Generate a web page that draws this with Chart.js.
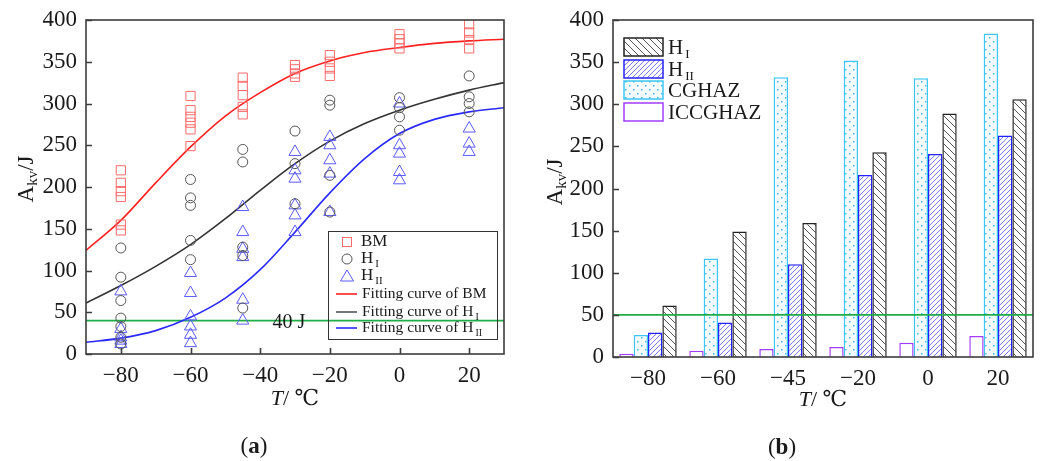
<!DOCTYPE html>
<html>
<head>
<meta charset="utf-8">
<script src="https://cdn.jsdelivr.net/npm/chart.js@4.4.1/dist/chart.umd.min.js"></script>
<style>
  html, body { margin: 0; padding: 0; background: #fff; }
  #wrap { position: relative; width: 1040px; height: 461px; overflow: hidden; }
  .box { position: absolute; top: 0; width: 520px; height: 461px; }
</style>
</head>
<body>
<div id="wrap">
  <div class="box" style="left:0"><canvas id="chart-a" width="520" height="461"></canvas></div>
  <div class="box" style="left:520px"><canvas id="chart-b" width="520" height="461"></canvas></div>
</div>
<script>
// ---- panel (a): impact energy vs temperature ----
const tempsA = [-80, -60, -45, -30, -20, 0, 20];
const bmValues = [
    [220, 205, 195, 188, 155, 148],
    [309, 292, 284, 277, 269, 249],
    [331, 321, 310, 296, 287],
    [346, 341, 336, 332],
    [358, 350, 342, 333],
    [383, 377, 372, 366],
    [395, 385, 376, 366]
];
const h1Values = [
    [127, 92, 64, 43, 33, 20, 12],
    [209, 187, 178, 136, 113],
    [245, 230, 128, 118, 55],
    [267, 228, 180],
    [304, 298, 214, 170],
    [307, 295, 284, 268],
    [333, 308, 300, 290]
];
const h2Values = [
    [75, 30, 20, 16, 12],
    [97, 73, 45, 33, 23, 13],
    [176, 146, 126, 116, 65, 40],
    [242, 220, 210, 178, 166, 146],
    [260, 250, 232, 216, 170],
    [300, 250, 240, 218, 208],
    [270, 252, 242]
];
// fitting curves, every 10 °C
const fitT  = [-90, -80, -70, -60, -50, -40, -30, -20, -10, 0, 10, 20, 30];
const fitBM = [124, 160, 205, 248, 285, 313, 336, 351, 361, 367, 372, 375, 377];
const fitH1 = [61, 82, 105, 131, 162, 196, 228, 255, 276, 292, 305, 316, 325];
const fitH2 = [14, 19, 28, 44, 67, 101, 146, 193, 234, 264, 281, 290, 295];
const limitA = 40;
const xTicksA = [-80, -60, -40, -20, 0, 20];
const yTicks = [0, 50, 100, 150, 200, 250, 300, 350, 400];

// ---- panel (b): bars per zone ----
const tempsB = ['\u221280', '\u221260', '\u221245', '\u221220', '0', '20'];
const iccghazBars = [4, 7.5, 9.5, 12, 17, 25];
const cghazBars = [26, 117, 332, 352, 331, 384];
const h2Bars = [29, 41, 110, 216, 241, 263];
const h1Bars = [61, 149, 159, 243, 289, 306];
const limitB = 50;

const SERIF = "'Liberation Serif', 'DejaVu Serif', serif";
const TXT = '#1a1a1a';
const GREEN = '#1fae45';

// patterns for the bars
function hatch(color, slope, size, width) {
    const c = document.createElement('canvas');
    c.width = size; c.height = size;
    const g = c.getContext('2d');
    g.fillStyle = '#fff';
    g.fillRect(0, 0, size, size);
    g.strokeStyle = color;
    g.lineWidth = width;
    g.beginPath();
    if (slope === '/') {
        g.moveTo(-1, size + 1); g.lineTo(size + 1, -1);
        g.moveTo(-1, 1); g.lineTo(1, -1);
        g.moveTo(size - 1, size + 1); g.lineTo(size + 1, size - 1);
    } else {
        g.moveTo(-1, -1); g.lineTo(size + 1, size + 1);
        g.moveTo(size - 1, -1); g.lineTo(size + 1, 1);
        g.moveTo(-1, size - 1); g.lineTo(1, size + 1);
    }
    g.stroke();
    return g.createPattern(c, 'repeat');
}
function dots(color) {
    const c = document.createElement('canvas');
    c.width = 8; c.height = 8;
    const g = c.getContext('2d');
    g.fillStyle = '#f5fcff';
    g.fillRect(0, 0, 8, 8);
    g.fillStyle = color;
    g.fillRect(1, 1, 1.5, 1.5);
    g.fillRect(5, 5, 1.5, 1.5);
    return g.createPattern(c, 'repeat');
}
const patH1 = hatch('#555', '\\', 7, 1);
const patH2 = hatch('#7a7aff', '/', 5, 1);
const patCG = dots('#3cbbee');

// text helpers
function subText(ctx, x, y, main, sub, size) {
    ctx.textAlign = 'left';
    ctx.font = size + 'px ' + SERIF;
    const w1 = ctx.measureText(main).width;
    ctx.fillText(main, x, y);
    ctx.font = Math.round(size * 0.62) + 'px ' + SERIF;
    ctx.fillText(sub, x + w1 + 2, y + size * 0.32);
}
function yTitle(ctx, cx, cy) {
    ctx.save();
    ctx.translate(cx, cy);
    ctx.rotate(-Math.PI / 2);
    ctx.fillStyle = TXT;
    ctx.textBaseline = 'middle';
    ctx.textAlign = 'left';
    ctx.font = '23px ' + SERIF;
    const wa = ctx.measureText('A').width;
    const wj = ctx.measureText('/J').width;
    ctx.font = '15px ' + SERIF;
    const wk = ctx.measureText('kv').width;
    const x = -(wa + wk + wj) / 2;
    ctx.font = '23px ' + SERIF;
    ctx.fillText('A', x, 0);
    ctx.font = '15px ' + SERIF;
    ctx.fillText('kv', x + wa, 6);
    ctx.font = '23px ' + SERIF;
    ctx.fillText('/J', x + wa + wk, 0);
    ctx.restore();
}
function xTitle(ctx, cx, cy) {
    ctx.save();
    ctx.fillStyle = TXT;
    ctx.textBaseline = 'middle';
    ctx.textAlign = 'left';
    ctx.font = 'italic 22px ' + SERIF;
    const wt = ctx.measureText('T').width;
    ctx.font = '22px ' + SERIF;
    const wr = ctx.measureText('/ \u2103').width;
    const x = cx - (wt + wr) / 2;
    ctx.font = 'italic 22px ' + SERIF;
    ctx.fillText('T', x, cy);
    ctx.font = '22px ' + SERIF;
    ctx.fillText('/ \u2103', x + wt, cy);
    ctx.restore();
}
function caption(ctx, text, cx, cy) {
    ctx.save();
    ctx.fillStyle = TXT;
    ctx.textAlign = 'center';
    ctx.textBaseline = 'middle';
    ctx.font = '23px ' + SERIF;
    const wb = ctx.measureText('(').width;
    ctx.font = 'bold 23px ' + SERIF;
    const wl = ctx.measureText(text).width;
    ctx.font = '23px ' + SERIF;
    ctx.fillText('(', cx - wl / 2 - wb / 2, cy);
    ctx.fillText(')', cx + wl / 2 + wb / 2, cy);
    ctx.font = 'bold 23px ' + SERIF;
    ctx.fillText(text, cx, cy);
    ctx.restore();
}
function frame(chart, xTicks) {
    const { ctx, chartArea: a, scales } = chart;
    ctx.save();
    ctx.strokeStyle = '#3c3c3c';
    ctx.lineWidth = 1.6;
    ctx.beginPath();
    scales.y.ticks.forEach(t => {
        const py = Math.round(scales.y.getPixelForValue(t.value)) + 0.5;
        ctx.moveTo(a.left, py); ctx.lineTo(a.left + 6, py);
    });
    if (xTicks) {
        scales.x.ticks.forEach(t => {
            const px = Math.round(scales.x.getPixelForValue(t.value)) + 0.5;
            ctx.moveTo(px, a.bottom); ctx.lineTo(px, a.bottom - 6);
        });
    }
    ctx.stroke();
    ctx.strokeRect(a.left, a.top, a.right - a.left, a.bottom - a.top);
    ctx.restore();
}

const tickFont = { family: SERIF, size: 23 };
const minus = v => String(v).replace('-', '\u2212');

// ---- chart (a) ----
const toPoints = vals => tempsA.flatMap((t, i) => vals[i].map(v => ({ x: t, y: v })));
const toCurve = vals => fitT.map((t, i) => ({ x: t, y: vals[i] }));

const panelA = {
    id: 'panelA',
    beforeDatasetsDraw(chart) {
        const { ctx, chartArea: a, scales } = chart;
        const py = scales.y.getPixelForValue(limitA);
        ctx.save();
        ctx.strokeStyle = GREEN;
        ctx.lineWidth = 1.8;
        ctx.beginPath();
        ctx.moveTo(a.left, py); ctx.lineTo(a.right, py);
        ctx.stroke();
        ctx.fillStyle = TXT;
        ctx.font = '20px ' + SERIF;
        ctx.textAlign = 'center';
        ctx.textBaseline = 'middle';
        ctx.fillText('40 J', 289, py + 2);
        ctx.restore();
    },
    afterDraw(chart) {
        const ctx = chart.ctx;
        frame(chart, true);
        // legend
        ctx.save();
        ctx.strokeStyle = '#333';
        ctx.lineWidth = 1;
        ctx.strokeRect(328.5, 231.5, 169, 108);
        ctx.textBaseline = 'middle';
        const rows = [242, 259, 276, 294, 312, 328];
        ctx.lineWidth = 1;
        ctx.strokeStyle = '#ff6b6b';
        ctx.strokeRect(342.5, rows[0] - 4.5, 9, 9);
        ctx.strokeStyle = '#555';
        ctx.beginPath(); ctx.arc(347, rows[1], 5, 0, Math.PI * 2); ctx.stroke();
        ctx.strokeStyle = '#5a5aff';
        ctx.beginPath();
        ctx.moveTo(347, rows[2] - 6); ctx.lineTo(353.5, rows[2] + 5); ctx.lineTo(340.5, rows[2] + 5); ctx.closePath();
        ctx.stroke();
        const lc = ['#ff2020', '#555', '#2a2aff'];
        ctx.lineWidth = 1.6;
        for (let i = 0; i < 3; i++) {
            ctx.strokeStyle = lc[i];
            ctx.beginPath(); ctx.moveTo(336, rows[3 + i]); ctx.lineTo(357, rows[3 + i]); ctx.stroke();
        }
        ctx.fillStyle = TXT;
        ctx.textAlign = 'left';
        ctx.font = '17px ' + SERIF;
        ctx.fillText('BM', 361, rows[0]);
        subText(ctx, 361, rows[1], 'H', 'I', 17);
        subText(ctx, 361, rows[2], 'H', 'II', 17);
        ctx.font = '15.5px ' + SERIF;
        ctx.textAlign = 'left';
        ctx.fillText('Fitting curve of BM', 362, rows[3]);
        const w = ctx.measureText('Fitting curve of ').width;
        ctx.fillText('Fitting curve of ', 362, rows[4]);
        subText(ctx, 362 + w, rows[4], 'H', 'I', 15.5);
        ctx.font = '15.5px ' + SERIF;
        ctx.fillText('Fitting curve of ', 362, rows[5]);
        subText(ctx, 362 + w, rows[5], 'H', 'II', 15.5);
        ctx.restore();
        yTitle(ctx, 27, 179);
        xTitle(ctx, 295, 399);
        caption(ctx, 'a', 254, 447);
    }
};

new Chart(document.getElementById('chart-a'), {
    type: 'scatter',
    data: {
        datasets: [
            { label: 'BM', data: toPoints(bmValues), pointStyle: 'rect', pointRadius: 6.5,
              borderColor: '#ff6b6b', backgroundColor: 'transparent', pointBorderWidth: 1 },
            { label: 'H I', data: toPoints(h1Values), pointStyle: 'circle', pointRadius: 5,
              borderColor: '#555', backgroundColor: 'transparent', pointBorderWidth: 1 },
            { label: 'H II', data: toPoints(h2Values), pointStyle: 'triangle', pointRadius: 7,
              borderColor: '#5a5aff', backgroundColor: 'transparent', pointBorderWidth: 1 },
            { label: 'Fitting curve of BM', data: toCurve(fitBM), showLine: true, pointRadius: 0,
              borderColor: '#ff2020', borderWidth: 1.6, cubicInterpolationMode: 'monotone' },
            { label: 'Fitting curve of H I', data: toCurve(fitH1), showLine: true, pointRadius: 0,
              borderColor: '#333', borderWidth: 1.6, cubicInterpolationMode: 'monotone' },
            { label: 'Fitting curve of H II', data: toCurve(fitH2), showLine: true, pointRadius: 0,
              borderColor: '#2a2aff', borderWidth: 1.6, cubicInterpolationMode: 'monotone' }
        ]
    },
    options: {
        responsive: false,
        animation: false,
        layout: { padding: { left: 0, top: 20, right: 16, bottom: 0 } },
        plugins: { legend: { display: false }, tooltip: { enabled: false } },
        scales: {
            x: {
                type: 'linear', min: -90, max: 30,
                grid: { display: false }, border: { display: false },
                afterBuildTicks: s => { s.ticks = xTicksA.map(v => ({ value: v })); },
                afterFit: s => { s.height = 107; },
                ticks: { font: tickFont, color: TXT, padding: 0, maxRotation: 0, callback: minus }
            },
            y: {
                min: 0, max: 400,
                grid: { display: false }, border: { display: false },
                afterBuildTicks: s => { s.ticks = yTicks.map(v => ({ value: v })); },
                afterFit: s => { s.width = 86; },
                ticks: { font: tickFont, color: TXT, padding: 1 }
            }
        }
    },
    plugins: [panelA]
});

// ---- chart (b) ----
const legendB = [
    { main: 'H', sub: 'I', fill: patH1, stroke: '#222' },
    { main: 'H', sub: 'II', fill: patH2, stroke: '#2323ff' },
    { main: 'CGHAZ', sub: '', fill: patCG, stroke: '#3cc6f5' },
    { main: 'ICCGHAZ', sub: '', fill: '#fff', stroke: '#a23cff' }
];

const panelB = {
    id: 'panelB',
    afterDatasetsDraw(chart) {
        const { ctx, chartArea: a, scales } = chart;
        const py = scales.y.getPixelForValue(limitB);
        ctx.save();
        ctx.strokeStyle = GREEN;
        ctx.lineWidth = 1.8;
        ctx.beginPath();
        ctx.moveTo(a.left, py); ctx.lineTo(a.right, py);
        ctx.stroke();
        ctx.restore();
    },
    afterDraw(chart) {
        const ctx = chart.ctx;
        frame(chart, false);
        ctx.save();
        const tops = [38, 60, 81, 103];
        legendB.forEach((e, i) => {
            ctx.fillStyle = e.fill;
            ctx.fillRect(104, tops[i], 39, 18);
            ctx.strokeStyle = e.stroke;
            ctx.lineWidth = 1.5;
            ctx.strokeRect(104, tops[i], 39, 18);
            ctx.fillStyle = TXT;
            ctx.textBaseline = 'middle';
            if (e.sub) {
                subText(ctx, 148, tops[i] + 10, e.main, e.sub, 21);
            } else {
                ctx.textAlign = 'left';
                ctx.font = '21px ' + SERIF;
                ctx.fillText(e.main, 148, tops[i] + 10);
            }
        });
        ctx.restore();
        yTitle(ctx, 36, 182);
        xTitle(ctx, 303, 400);
        caption(ctx, 'b', 262, 448);
    }
};

new Chart(document.getElementById('chart-b'), {
    type: 'bar',
    data: {
        labels: tempsB,
        datasets: [
            { label: 'ICCGHAZ', data: iccghazBars, backgroundColor: '#fff', borderColor: '#a23cff', borderWidth: 1.5 },
            { label: 'CGHAZ', data: cghazBars, backgroundColor: patCG, borderColor: '#3cc6f5', borderWidth: 1.5 },
            { label: 'H II', data: h2Bars, backgroundColor: patH2, borderColor: '#2323ff', borderWidth: 1.5 },
            { label: 'H I', data: h1Bars, backgroundColor: patH1, borderColor: '#222', borderWidth: 1.5 }
        ]
    },
    options: {
        responsive: false,
        animation: false,
        categoryPercentage: 0.82,
        barPercentage: 1.0,
        layout: { padding: { left: 0, top: 20, right: 7, bottom: 0 } },
        plugins: { legend: { display: false }, tooltip: { enabled: false } },
        scales: {
            x: {
                grid: { display: false }, border: { display: false },
                afterFit: s => { s.height = 104; },
                ticks: { font: tickFont, color: TXT, padding: 0, maxRotation: 0 }
            },
            y: {
                min: 0, max: 400,
                grid: { display: false }, border: { display: false },
                afterBuildTicks: s => { s.ticks = yTicks.map(v => ({ value: v })); },
                afterFit: s => { s.width = 93; },
                ticks: { font: tickFont, color: TXT, padding: 1 }
            }
        }
    },
    plugins: [panelB]
});
</script>
</body>
</html>
